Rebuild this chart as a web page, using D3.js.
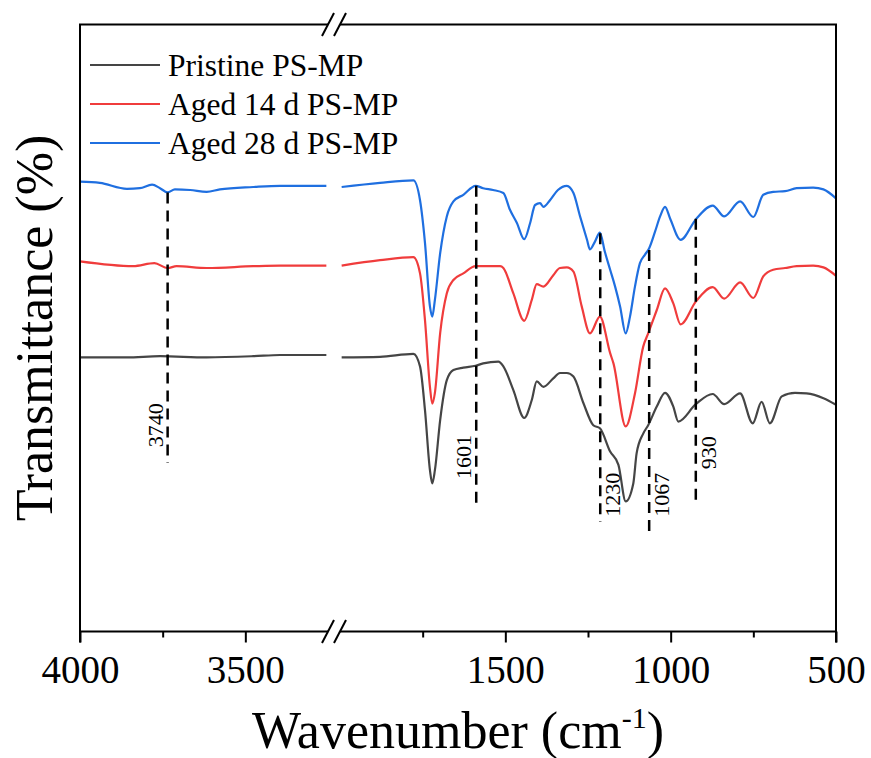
<!DOCTYPE html>
<html>
<head>
<meta charset="utf-8">
<script src="https://cdn.jsdelivr.net/npm/d3@7"></script>
<style>
  body { margin: 0; background: #fff; }
  svg { display: block; }
  text { font-family: "Liberation Serif", "Times New Roman", serif; fill: #000; }
</style>
</head>
<body>
<svg id="chart" width="871" height="758"></svg>
<script>
// wavenumber (cm-1), transmittance (a.u., offset stacked)
const pristine = [[4000,45.6],[3859,45.6],[3758,45.8],[3617,45.6],[3476,45.8],[3395,46.0],[3255,46.0],
  [1995,45.6],[1879,45.7],[1778,46.2],[1758,44.1],[1743,36.8],[1728,26.8],[1721,24.6],[1713,26.8],[1697,35.2],
  [1677,41.8],[1657,43.5],[1627,43.9],[1590,44.2],[1567,44.6],[1521,44.9],[1506,44.1],[1476,40.2],[1443,35.5],
  [1420,38.5],[1405,41.6],[1385,40.7],[1355,42.1],[1335,43.0],[1314,43.0],[1294,42.4],[1264,38.0],[1234,34.3],
  [1214,33.8],[1183,29.9],[1158,27.7],[1136,21.6],[1113,24.6],[1103,29.6],[1083,32.9],[1068,34.3],[1042,37.4],
  [1017,39.7],[992,37.4],[977,34.9],[924,37.8],[873,39.5],[838,37.8],[790,39.6],[752,34.6],[725,38.2],[700,34.6],
  [664,39.1],[624,39.7],[589,39.6],[538,38.8],[500,37.7]];

const aged14 = [[4000,61.6],[3839,60.8],[3775,61.3],[3735,60.5],[3708,60.8],[3617,60.5],[3476,60.8],[3395,60.9],[3255,60.9],
  [1995,60.9],[1879,61.8],[1778,62.3],[1758,59.6],[1743,51.8],[1728,40.7],[1721,37.9],[1713,39.7],[1697,49.7],
  [1677,56.3],[1657,58.5],[1627,59.6],[1590,60.8],[1567,60.8],[1516,60.8],[1506,60.5],[1476,56.3],[1443,51.7],
  [1420,55.2],[1405,57.8],[1385,57.4],[1355,59.3],[1335,60.5],[1314,60.6],[1294,59.9],[1269,54.1],[1244,49.6],
  [1214,52.4],[1183,46.3],[1173,44.6],[1136,34.1],[1108,39.6],[1083,47.4],[1068,49.6],[1042,53.5],[1017,57.1],
  [992,54.6],[970,51.1],[924,54.9],[873,57.3],[838,55.4],[790,58.1],[750,55.5],[720,59.1],[690,60.2],[654,60.5],
  [619,60.8],[569,60.9],[538,60.6],[500,59.2]];

const aged28 = [[4000,74.9],[3940,74.7],[3858,73.7],[3819,73.8],[3782,74.4],[3758,73.8],[3735,73.1],[3713,73.6],
  [3667,73.5],[3617,73.2],[3577,73.6],[3476,74.0],[3395,74.2],[3255,74.2],
  [1995,74.0],[1879,74.7],[1778,75.1],[1758,71.8],[1743,64.7],[1728,54.1],[1721,52.4],[1713,55.2],[1697,63.0],
  [1677,69.1],[1657,71.6],[1627,72.7],[1590,74.2],[1567,73.8],[1537,73.5],[1506,73.0],[1486,70.2],[1465,68.0],
  [1443,65.3],[1425,68.0],[1410,71.0],[1395,71.3],[1385,70.7],[1365,71.8],[1341,73.5],[1314,74.2],[1294,73.0],
  [1274,69.1],[1253,65.2],[1244,63.6],[1229,64.9],[1214,66.4],[1199,63.2],[1183,60.2],[1168,57.4],[1153,54.1],
  [1136,49.6],[1123,52.4],[1108,57.4],[1093,61.3],[1078,62.7],[1065,63.8],[1047,66.6],[1032,69.1],[1017,70.7],
  [1002,68.8],[970,65.2],[924,68.6],[873,70.9],[838,69.1],[790,71.6],[750,69.0],[720,72.7],[690,73.2],[654,73.3],
  [619,73.8],[569,73.9],[538,73.6],[500,72.1]];

const seriesNames = ["Pristine PS-MP", "Aged 14 d PS-MP", "Aged 28 d PS-MP"];
const seriesColors = ["#454545", "#f03c3c", "#1f6fe0"];

// marked bands: where the dashed line sits, its label, and its extent
const bandPos = [3735, 1588, 1213, 1065, 924];
const bandLabels = ["3740", "1601", "1230", "1067", "930"];
const bandTop = [73.1, 74.2, 66.3, 63.5, 68.7];
const bandBottom = [28.0, 21.0, 18.2, 15.7, 21.0];
const bandLabelMid = [34.3, 29.0, 22.7, 22.7, 29.7];
const bandSide = [-1, -1, 1, 1, 1];

const majorTicks = [4000, 3500, 1500, 1000, 500];
const minorTicks = [3750, 1750, 1250, 750];
const breakAt = [3250, 2000];

const svg = d3.select("#chart");
const plot = {left: 80, right: 836, top: 24.5, bottom: 631.5};

// broken axis: 4000-3250 and 2000-500 share the same px per cm-1
const x = d3.scaleLinear().domain([4000, 3250, 2000, 500]).range([80, 328, 340, 836]);
const y = d3.scaleLinear().domain([0, 101]).range([631, 25]);

const line = d3.line()
    .x(d => x(d[0]))
    .y(d => y(d[1]))
    .curve(d3.curveMonotoneX);

// spectra, each in two pieces either side of the break
[pristine, aged14, aged28].forEach((data, i) => {
    const parts = [data.filter(d => d[0] >= breakAt[0]), data.filter(d => d[0] <= breakAt[1])];
    svg.append("g").selectAll("path")
        .data(parts)
        .join("path")
        .attr("d", line)
        .attr("fill", "none")
        .attr("stroke", seriesColors[i])
        .attr("stroke-width", 2.2)
        .attr("stroke-linejoin", "round");
});

// dashed band markers
const bands = svg.append("g");
bandPos.forEach((wn, i) => {
    const bx = x(wn);
    bands.append("line")
        .attr("x1", bx).attr("x2", bx)
        .attr("y1", y(bandTop[i])).attr("y2", y(bandBottom[i]))
        .attr("stroke", "#000")
        .attr("stroke-width", 2.5)
        .attr("stroke-dasharray", "11,7");
    const tx = bandSide[i] < 0 ? bx - 5 : bx + 20;
    bands.append("text")
        .attr("transform", `translate(${tx},${y(bandLabelMid[i])}) rotate(-90)`)
        .attr("text-anchor", "middle")
        .attr("font-size", 22)
        .text(bandLabels[i]);
});

// frame with gaps at the break
const frame = svg.append("g").attr("stroke", "#000").attr("stroke-width", 2).attr("fill", "none");
frame.append("line").attr("x1", plot.left).attr("x2", plot.left).attr("y1", plot.top).attr("y2", plot.bottom + 11);
frame.append("line").attr("x1", plot.right).attr("x2", plot.right).attr("y1", plot.top).attr("y2", plot.bottom + 11);
[plot.top, plot.bottom].forEach(yy => {
    frame.append("line").attr("x1", plot.left - 1).attr("x2", x(breakAt[0])).attr("y1", yy).attr("y2", yy);
    frame.append("line").attr("x1", x(breakAt[1])).attr("x2", plot.right + 1).attr("y1", yy).attr("y2", yy);
    breakAt.forEach(b => {
        frame.append("line")
            .attr("x1", x(b) - 6).attr("y1", yy + 11.5)
            .attr("x2", x(b) + 6).attr("y2", yy - 11.5);
    });
});

// bottom axis ticks and labels
const axisG = svg.append("g").attr("transform", `translate(0,${plot.bottom})`);
axisG.call(d3.axisBottom(x).tickValues(majorTicks).tickSize(11).tickPadding(13).tickFormat(d3.format("d")))
    .call(g => g.select(".domain").remove())
    .call(g => g.selectAll(".tick line").attr("stroke", "#000").attr("stroke-width", 2))
    .call(g => g.selectAll(".tick text").attr("font-size", 39).attr("font-family", null).attr("fill", "#000"));
svg.append("g").attr("transform", `translate(0,${plot.bottom})`)
    .call(d3.axisBottom(x).tickValues(minorTicks).tickSize(6).tickFormat(""))
    .call(g => g.select(".domain").remove())
    .call(g => g.selectAll(".tick line").attr("stroke", "#000").attr("stroke-width", 2));

// axis titles
const xt = svg.append("text")
    .attr("x", (plot.left + plot.right) / 2)
    .attr("y", 748)
    .attr("text-anchor", "middle")
    .attr("font-size", 52);
xt.append("tspan").text("Wavenumber (cm");
xt.append("tspan").attr("font-size", 30).attr("dy", -20).text("-1");
xt.append("tspan").attr("dy", 20).text(")");

svg.append("text")
    .attr("transform", `translate(52,${(plot.top + plot.bottom) / 2}) rotate(-90)`)
    .attr("text-anchor", "middle")
    .attr("font-size", 52)
    .text("Transmittance (%)");

// legend
const legend = svg.append("g");
seriesNames.forEach((name, i) => {
    const ly = 65 + i * 39;
    legend.append("line")
        .attr("x1", 90).attr("x2", 160)
        .attr("y1", ly).attr("y2", ly)
        .attr("stroke", seriesColors[i])
        .attr("stroke-width", 2.2);
    legend.append("text")
        .attr("x", 168).attr("y", ly + 11)
        .attr("font-size", 31.5)
        .text(name);
});
</script>
</body>
</html>
